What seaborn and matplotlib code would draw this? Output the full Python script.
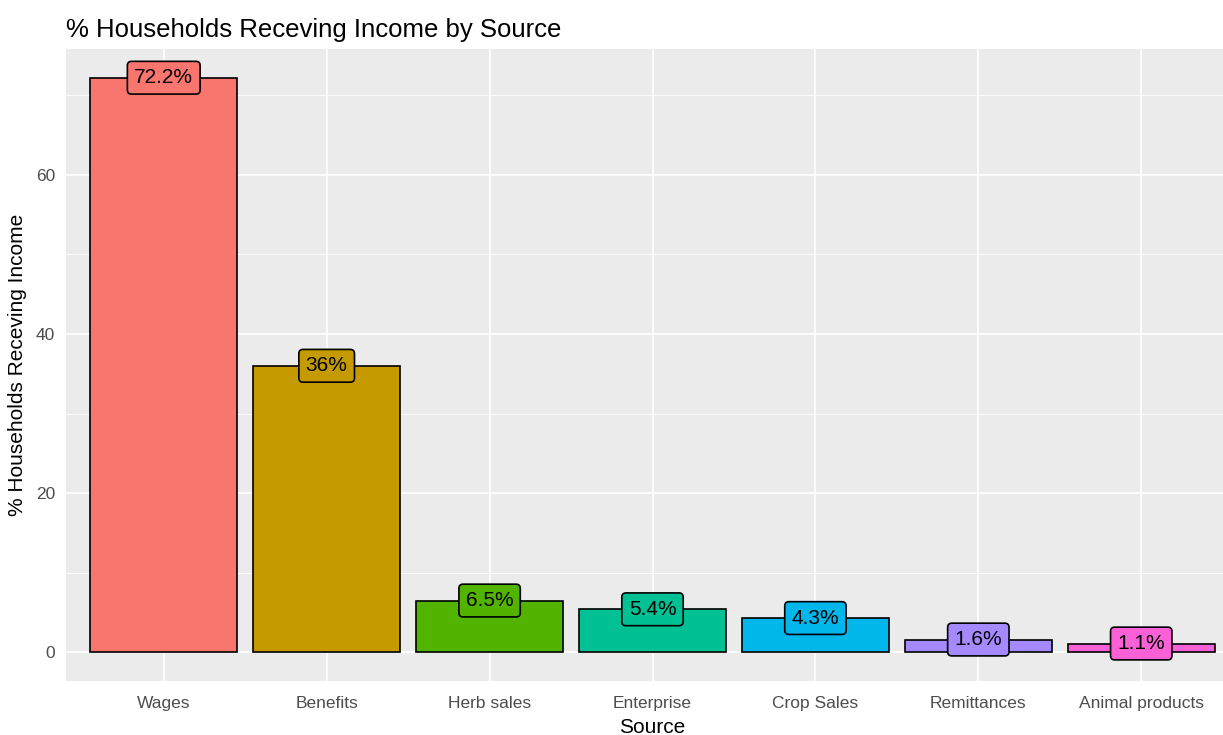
import pandas as pd
import matplotlib.pyplot as plt
import seaborn as sns
from matplotlib.ticker import MultipleLocator

# data
sources = ['Wages', 'Benefits', 'Herb sales', 'Enterprise', 'Crop Sales', 'Remittances', 'Animal products']
pct = [72.2, 36.0, 6.5, 5.4, 4.3, 1.6, 1.1]
labels = ['72.2%', '36%', '6.5%', '5.4%', '4.3%', '1.6%', '1.1%']
colors = ['#F8766D', '#C49A00', '#53B400', '#00C094', '#00B6EB', '#A58AFF', '#FB61D7']

df = pd.DataFrame({'Source': sources, 'pct': pct})

sns.set_theme(style='darkgrid', rc={
    'axes.facecolor': '#EBEBEB',
    'grid.color': 'white',
    'axes.edgecolor': '#EBEBEB',
})
plt.rcParams['font.family'] = ['Liberation Sans', 'DejaVu Sans']

fig = plt.figure(figsize=(12.23, 7.35), dpi=100)
# panel runs slightly past the right edge of the image in the original
ax = fig.add_axes([66 / 1223, 54 / 735, 1173 / 1223, 632 / 735])

sns.barplot(data=df, x='Source', y='pct', hue='Source', palette=colors,
            order=sources, width=0.9, edgecolor='black', linewidth=1.2,
            saturation=1, legend=False, ax=ax, zorder=3)

for i, (v, lab) in enumerate(zip(pct, labels)):
    ax.text(i, v, lab, ha='center', va='center', fontsize=15, color='black', zorder=5,
            bbox=dict(boxstyle='round,pad=0.33,rounding_size=0.2', facecolor=colors[i],
                      edgecolor='black', linewidth=1.2))

ax.set_xlim(-0.6, 6.6)
ax.set_ylim(-3.61, 75.81)
ax.yaxis.set_major_locator(MultipleLocator(20))
ax.yaxis.set_minor_locator(MultipleLocator(10))
ax.grid(which='major', color='white', linewidth=1.2)
ax.grid(which='minor', axis='y', color='white', linewidth=0.6)
ax.set_axisbelow(True)
for s in ax.spines.values():
    s.set_visible(False)

ax.tick_params(axis='both', which='major', length=4, width=1, color='#333333',
               labelcolor='#4D4D4D', labelsize=12.5, pad=4)
ax.tick_params(axis='x', which='major', pad=7)
ax.tick_params(axis='y', which='minor', length=0)

ax.set_xlabel('Source', fontsize=15, color='black', labelpad=5)
ax.set_ylabel('% Households Receving Income', fontsize=15, color='black', labelpad=6)
ax.set_title('% Households Receving Income by Source', fontsize=18.5, loc='left',
             x=0.0, pad=9, color='black')

plt.savefig('out.png', dpi=100)
